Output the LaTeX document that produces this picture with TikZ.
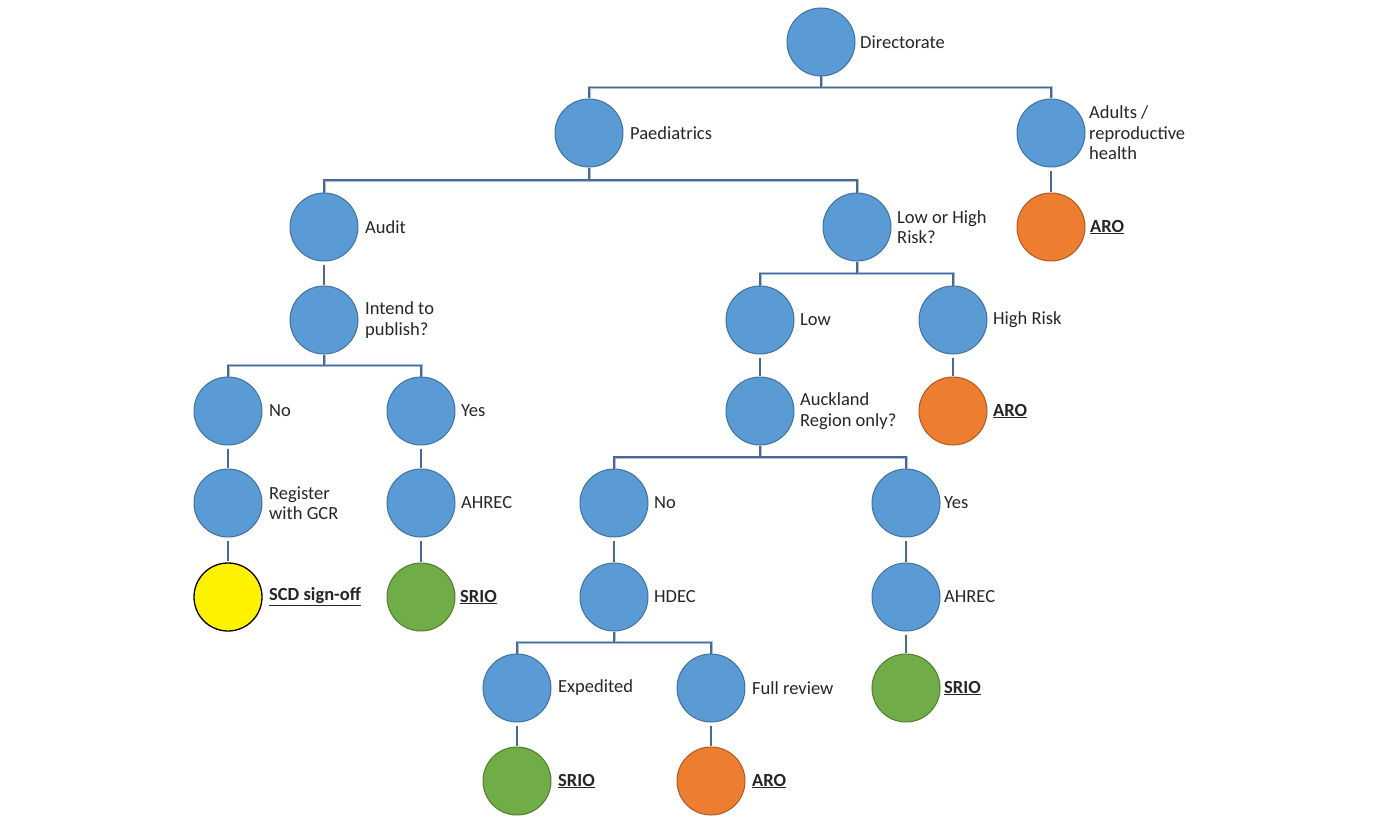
\documentclass[tikz,border=0pt]{standalone}
\usepackage{fontspec}
\setmainfont{Carlito}
\usetikzlibrary{calc}
\definecolor{bfill}{HTML}{5B9BD5}
\definecolor{bdraw}{HTML}{41719C}
\definecolor{ofill}{HTML}{ED7D31}
\definecolor{odraw}{HTML}{AE5A21}
\definecolor{gfill}{HTML}{70AD47}
\definecolor{gdraw}{HTML}{507E32}
\definecolor{lline}{HTML}{A7C0DE}
\definecolor{dline}{HTML}{4A6891}
\definecolor{txt}{HTML}{262626}
\tikzset{
  circ/.style={circle,minimum size=68pt,inner sep=0pt,line width=1pt},
  bc/.style={circ,fill=bfill,draw=bdraw},
  oc/.style={circ,fill=ofill,draw=odraw},
  gc/.style={circ,fill=gfill,draw=gdraw},
  yc/.style={circ,fill=yellow,draw=black,line width=1.3pt},
  lbl/.style={anchor=west,align=left,inner sep=0pt,text=txt,font=\fontsize{18.5}{20.5}\selectfont},
  outlbl/.style={lbl,font=\fontsize{18.5}{20.5}\selectfont\bfseries},
  conn/.style={draw=dline,line width=1.1pt,preaction={draw=lline,line width=3pt}},
  link/.style={draw=dline,line width=1.3pt},
}
\newcommand{\ul}[1]{\underline{#1}}
\begin{document}
\begin{tikzpicture}[x=1pt,y=-1pt]
\useasboundingbox (0,0) rectangle (1381,824);
% nodes
\node[bc] (dir) at (821,42) {};
\node[bc] (paed) at (589,133) {};
\node[bc] (adult) at (1051,133) {};
\node[oc] (aroA) at (1051,227) {};
\node[bc] (audit) at (324,227) {};
\node[bc] (risk) at (857,227) {};
\node[bc] (intend) at (324,320) {};
\node[bc] (low) at (760,320) {};
\node[bc] (high) at (953,320) {};
\node[oc] (aroH) at (953,411) {};
\node[bc] (no1) at (228,411) {};
\node[bc] (yes1) at (421,411) {};
\node[bc] (auck) at (760,411) {};
\node[bc] (reg) at (228,503) {};
\node[bc] (ahrec1) at (421,503) {};
\node[bc] (no2) at (614,503) {};
\node[bc] (yes2) at (906,503) {};
\node[yc] (scd) at (228,597) {};
\node[gc] (srio1) at (421,597) {};
\node[bc] (hdec) at (614,597) {};
\node[bc] (ahrec2) at (906,597) {};
\node[bc] (exp) at (517,688) {};
\node[bc] (full) at (711,688) {};
\node[gc] (srio2) at (906,688) {};
\node[gc] (srio3) at (517,781) {};
\node[oc] (aroF) at (711,781) {};
% labels
\node[lbl] (tdir) at ([xshift=39pt]dir.center) {Directorate};
\node[lbl] (tpaed) at ([xshift=41pt]paed.center) {Paediatrics};
\node[lbl] (tadult) at ([xshift=38pt]adult.center) {Adults /\\reproductive\\health};
\node[outlbl] (taroA) at ([xshift=39pt]aroA.center) {\ul{ARO}};
\node[lbl] (taudit) at ([xshift=41pt]audit.center) {Audit};
\node[lbl] (trisk) at ([xshift=40pt]risk.center) {Low or High\\Risk?};
\node[lbl] (tintend) at ([xshift=41pt]intend.center) {Intend to\\publish?};
\node[lbl] (tlow) at ([xshift=40pt]low.center) {Low};
\node[lbl] (thigh) at ([xshift=40pt]high.center) {High Risk};
\node[outlbl] (taroH) at ([xshift=40pt]aroH.center) {\ul{ARO}};
\node[lbl] (tno1) at ([xshift=41pt]no1.center) {No};
\node[lbl] (tyes1) at ([xshift=40pt]yes1.center) {Yes};
\node[lbl] (tauck) at ([xshift=40pt]auck.center) {Auckland\\Region only?};
\node[lbl] (treg) at ([xshift=41pt]reg.center) {Register\\with GCR};
\node[lbl] (tahrec1) at ([xshift=40pt]ahrec1.center) {AHREC};
\node[lbl] (tno2) at ([xshift=40pt]no2.center) {No};
\node[lbl] (tyes2) at ([xshift=38pt]yes2.center) {Yes};
\node[outlbl] (tscd) at ([xshift=41pt]scd.center) {\ul{SCD sign-off}};
\node[outlbl] (tsrio1) at ([xshift=39pt]srio1.center) {\ul{SRIO}};
\node[lbl] (thdec) at ([xshift=40pt]hdec.center) {HDEC};
\node[lbl] (tahrec2) at ([xshift=38pt]ahrec2.center) {AHREC};
\node[lbl] (texp) at ([xshift=41pt]exp.center) {Expedited};
\node[lbl] (tfull) at ([xshift=41pt]full.center) {Full review};
\node[outlbl] (tsrio2) at ([xshift=38pt]srio2.center) {\ul{SRIO}};
\node[outlbl] (tsrio3) at ([xshift=41pt]srio3.center) {\ul{SRIO}};
\node[outlbl] (taroF) at ([xshift=41pt]aroF.center) {\ul{ARO}};
% elbow connectors
\foreach \p/\c in {dir/paed,dir/adult,paed/audit,paed/risk,risk/low,risk/high,intend/no1,intend/yes1,auck/no2,auck/yes2,hdec/exp,hdec/full}{
  \draw[conn] (\p.south) |- ($(\p.south)!.5!(\c.north)$) -| (\c.north);
}
% straight links
\foreach \p/\c in {adult/aroA,audit/intend,low/auck,high/aroH,no1/reg,yes1/ahrec1,reg/scd,ahrec1/srio1,no2/hdec,yes2/ahrec2,ahrec2/srio2,exp/srio3,full/aroF}{
  \draw[link] ([yshift=-3pt]\p.south) -- ([yshift=1pt]\c.north);
}
\end{tikzpicture}
\end{document}
